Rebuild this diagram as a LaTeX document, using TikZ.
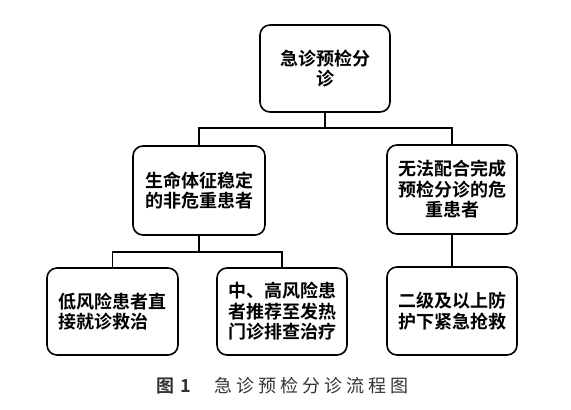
\documentclass[tikz,border=0pt]{standalone}
\usepackage{fontspec}
\newfontfamily\cjk{Noto Sans CJK SC}[BoldFont={Noto Sans CJK SC Bold}]
\usetikzlibrary{positioning, calc}
\tikzset{
  box/.style ={rectangle, draw=black, line width=1.6pt, fill=white,
               minimum width=130pt, minimum height=87pt, align=center,
               rounded corners=10pt, inner sep=0pt,
               font=\cjk\bfseries\fontsize{18}{20.5}\selectfont},
  conn/.style={line width=1.8pt, black},
  captext/.style ={font=\cjk\fontsize{18}{20}\selectfont, text=black!80, inner sep=0pt}
}
\begin{document}
\begin{tikzpicture}[x=1pt, y=-1pt]
    \useasboundingbox (0,0) rectangle (571,410);
    \node[box] (triage) at (325,68.5) {急诊预检分\\诊};
    \node[box, minimum width=132pt, minimum height=89pt] (stable) at (199,190.5) {生命体征稳定\\的非危重患者};
    \node[box, minimum height=89pt] (critical) at (452,189.5) {无法配合完成\\预检分诊的危\\重患者};
    \node[box, minimum width=131pt, align=left] (lowrisk) at (112.5,311.5) {低风险患者直\\接就诊救治};
    \node[box] (midrisk) at (282,311.5) {中、高风险患\\者推荐至发热\\门诊排查治疗};
    \node[box, minimum height=88pt] (rescue) at (452,311) {二级及以上防\\护下紧急抢救};
    \node[captext, anchor=west] (caption) at (156,386) {\bfseries 图\hspace{6pt}1\hspace{24pt}\mdseries 急\hspace{4pt}诊\hspace{4pt}预\hspace{4pt}检\hspace{4pt}分\hspace{4pt}诊\hspace{4pt}流\hspace{4pt}程\hspace{4pt}图};
    \coordinate (bus1) at (0,128);
    \coordinate (bus2) at (0,252);
    \draw[conn] (triage.south) -- (triage.south |- bus1);
    \draw[conn] (stable.north) |- (critical.north |- bus1) -- (critical.north);
    \draw[conn] (stable.south) -- (stable.south |- bus2);
    \draw[conn] (lowrisk.north) |- (midrisk.north |- bus2) -- (midrisk.north);
    \draw[conn] (critical.south) -- (rescue.north);
  \end{tikzpicture}
\end{document}
